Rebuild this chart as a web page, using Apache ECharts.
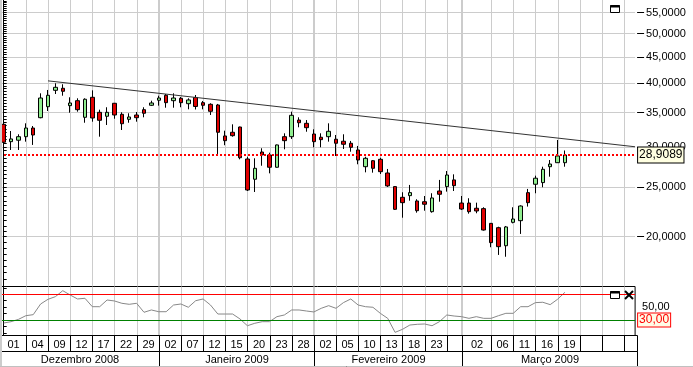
<!DOCTYPE html>
<html>
<head>
<meta charset="utf-8">
<script src="https://cdn.jsdelivr.net/npm/echarts@6/dist/echarts.min.js"></script>
<style>
html,body{margin:0;padding:0;background:#fff;}
#chart{width:693px;height:367px;}
</style>
</head>
<body>
<div id="chart"></div>
<script>
// ---------- DATA ----------
const categories = [
 '2008-12-01','2008-12-02','2008-12-03','2008-12-04','2008-12-05','2008-12-08','2008-12-09','2008-12-10','2008-12-11','2008-12-12',
 '2008-12-15','2008-12-16','2008-12-17','2008-12-18','2008-12-19','2008-12-22','2008-12-23','2008-12-26','2008-12-29','2008-12-30','2008-12-31',
 '2009-01-02','2009-01-05','2009-01-06','2009-01-07','2009-01-08','2009-01-09','2009-01-12','2009-01-13','2009-01-14','2009-01-15',
 '2009-01-16','2009-01-19','2009-01-20','2009-01-21','2009-01-22','2009-01-23','2009-01-26','2009-01-27','2009-01-28','2009-01-29','2009-01-30',
 '2009-02-02','2009-02-03','2009-02-04','2009-02-05','2009-02-06','2009-02-09','2009-02-10','2009-02-11','2009-02-12','2009-02-13',
 '2009-02-16','2009-02-17','2009-02-18','2009-02-19','2009-02-20','2009-02-23','2009-02-24','2009-02-25','2009-02-26','2009-02-27',
 '2009-03-02','2009-03-03','2009-03-04','2009-03-05','2009-03-06','2009-03-09','2009-03-10','2009-03-11','2009-03-12','2009-03-13',
 '2009-03-16','2009-03-17','2009-03-18','2009-03-19','2009-03-20','2009-03-23','2009-03-24','2009-03-25','2009-03-26','2009-03-27',
 '2009-03-30','2009-03-31','2009-04-01','2009-04-02'
];
const opens = [33.20,30.70,30.90,31.40,32.65,34.21,35.95,38.71,39.07,36.12,36.94,34.27,37.51,35.05,34.43,36.51,34.74,33.96,34.63,35.47,
 36.18,37.01,37.85,36.94,37.34,36.44,37.48,36.61,36.34,36.23,31.50,32.03,32.80,28.39,25.91,29.30,28.91,27.35,31.40,31.40,
 33.85,33.35,31.78,31.32,31.40,31.04,30.76,30.48,29.57,27.42,28.17,28.35,26.65,25.06,23.88,24.06,23.49,23.41,22.38,24.57,
 25.06,25.83,23.27,23.27,22.73,22.69,21.23,20.82,19.19,21.33,21.49,24.39,25.33,25.52,27.42,27.92,27.92];
const closes = [30.62,31.08,31.40,32.65,31.64,37.39,37.85,39.24,38.54,36.56,35.47,37.18,34.16,33.81,35.05,34.63,33.29,34.32,34.21,34.90,
 36.56,37.39,36.61,37.39,36.61,37.06,35.99,36.18,35.21,32.03,30.84,31.54,28.55,24.68,27.22,28.91,27.35,30.25,30.84,34.58,
 33.44,32.70,30.70,30.98,32.17,30.48,30.34,29.93,28.26,28.48,27.22,26.81,25.14,22.62,23.31,24.39,22.48,23.14,23.81,24.21,
 26.41,25.17,22.65,22.38,22.45,20.60,19.46,19.11,20.89,21.65,22.96,23.31,26.03,27.10,27.75,28.78,28.9089];
const lows = [30.38,29.57,29.57,30.70,30.25,34.12,35.26,38.07,37.78,34.99,35.15,33.44,33.60,31.40,33.10,34.05,32.36,33.44,33.60,34.27,
 36.07,36.12,35.79,35.79,35.86,35.53,35.50,35.53,34.63,29.04,30.21,31.40,28.35,24.57,24.46,27.54,26.61,27.30,29.66,31.08,
 32.76,32.11,29.93,29.93,30.70,28.78,29.70,29.34,27.72,26.73,26.69,26.53,25.02,22.55,21.78,23.52,22.28,22.48,22.28,23.41,
 24.50,24.57,22.55,22.18,22.22,20.55,19.06,18.41,18.26,21.23,20.24,22.90,24.32,24.99,26.21,27.90,27.42];
const highs = [33.40,32.21,31.74,33.35,32.95,38.19,38.77,39.96,39.78,37.51,37.34,37.34,38.71,35.47,35.86,36.56,35.05,34.90,35.10,35.86,
 36.94,37.78,38.07,38.19,37.56,37.34,37.90,36.89,36.51,36.40,32.26,33.20,32.85,28.68,28.48,29.80,29.21,30.30,31.88,35.15,
 34.27,33.85,32.46,31.88,33.35,31.64,31.74,30.80,30.11,28.68,28.26,28.55,27.14,25.10,24.43,25.25,23.67,24.02,24.32,25.83,
 26.89,26.49,24.02,23.78,23.31,22.83,21.25,20.91,20.98,22.83,23.03,24.80,26.33,27.42,28.26,30.94,29.50];
const rsi = [25.3,27.4,31.0,36.7,38.3,54.9,62.2,66.3,75.6,68.9,62.7,63.8,50.7,50.7,61.1,59.6,56.0,54.4,56.0,42.0,
 45.6,42.9,42.9,53.3,54.9,49.8,60.0,62.7,53.3,39.3,39.3,39.3,31.6,21.1,24.9,27.4,27.4,35.2,37.8,45.6,
 45.6,44.0,42.5,48.2,52.3,48.2,57.0,62.7,53.3,50.7,49.8,40.4,32.6,10.8,15.5,22.2,23.3,23.8,21.1,27.4,
 37.8,36.2,35.2,32.6,35.2,32.6,32.6,36.7,40.4,40.4,50.7,50.7,57.0,57.6,53.9,62.2,73.1];
const trendline = [[6, 40.4], [85.5, 30.0]];
const priceTicks = [20, 25, 30, 35, 40, 45, 50, 55];
const rsiLevels = [70, 30];
const rsiTickLabels = [50];
const dayCells = [[0,'01'],[3,'04'],[6,'09'],[9,'12'],[12,'17'],[15,'22'],[18,'29'],
 [21,'02'],[24,'07'],[27,'12'],[30,'15'],[33,'20'],[36,'23'],[39,'28'],
 [42,'02'],[45,'05'],[48,'10'],[51,'13'],[54,'18'],[57,'23'],[60,''],
 [62,'02'],[66,'06'],[69,'11'],[72,'16'],[75,'19'],[78,''],[81,''],[84,'']];
const monthCells = [[0,'Dezembro 2008'],[21,'Janeiro 2009'],[42,'Fevereiro 2009'],[62,'Março 2009']];

// ---------- BUILD ----------
const N = categories.length;
const FONT = 'Liberation Sans, Arial, sans-serif';
const LEFT = -2.7, WIDTH = 637.8, AXIS_OFFSET = 2;
const candleData = opens.map((o, i) => [o, closes[i], lows[i], highs[i]]);
const lastClose = closes[closes.length - 1];
const fmt = (v, d) => Number(v).toFixed(d).replace('.', ',');
const monthStarts = monthCells.map(c => c[0]).filter(i => i > 0);
const gridIdx = dayCells.map(c => c[0]).filter(i => i > 0);
const minorTicks = [];
for (let v = 16.5; v <= 58; v += 0.5) minorTicks.push(v);

function vLines(xIdx, yIdx, yVal) {
  return {
    type: 'custom', xAxisIndex: xIdx, yAxisIndex: yIdx, silent: true, z: 1,
    data: gridIdx.map(i => [i, yVal]),
    renderItem: function (params, api) {
      const idx = api.value(0);
      const x = Math.round(api.coord([idx, api.value(1)])[0]);
      const cs = params.coordSys;
      const month = monthStarts.indexOf(idx) >= 0;
      return {
        type: 'line',
        shape: { x1: month ? x : x + 0.5, y1: cs.y, x2: month ? x : x + 0.5, y2: cs.y + cs.height },
        style: { stroke: '#cccccc', lineWidth: month ? 2 : 1 }
      };
    }
  };
}

function cellSeries(cells, r0, r1) {
  return {
    type: 'custom', xAxisIndex: 4, yAxisIndex: 3, silent: true, z: 5,
    data: cells.map(c => [c[0], r0]),
    renderItem: function (params, api) {
      const k = params.dataIndex;
      const s = k === 0 ? -0.5 : cells[k][0];
      const e = k + 1 < cells.length ? cells[k + 1][0] : N - 0.5;
      const a = api.coord([s, r1]);
      const b = api.coord([e, r0]);
      const last = k + 1 >= cells.length;
      const x0 = Math.round(a[0]) + 0.5, x1 = Math.round(b[0]) + 0.5 + (last ? AXIS_OFFSET : 0);
      const y0 = Math.round(a[1]) + 0.5, y1 = Math.round(b[1]) + 0.5;
      return {
        type: 'group',
        children: [
          { type: 'rect', shape: { x: x0, y: y0, width: x1 - x0, height: y1 - y0 },
            style: { fill: null, stroke: '#000', lineWidth: 1 } },
          { type: 'text', style: { text: cells[k][1], x: (x0 + x1) / 2, y: (y0 + y1) / 2 + 1,
            align: 'center', verticalAlign: 'middle', fontSize: 11, fontFamily: FONT, fill: '#000' } }
        ]
      };
    }
  };
}

const chart = echarts.init(document.getElementById('chart'), null, { renderer: 'canvas' });
const option = {
  animation: false,
  backgroundColor: '#fff',
  textStyle: { fontFamily: FONT },
  grid: [
    { left: LEFT, width: WIDTH, top: 0, height: 286 },
    { left: LEFT, width: WIDTH, top: 286.5, height: 49, show: true, borderColor: '#000', borderWidth: 1, backgroundColor: 'transparent' },
    { left: LEFT, width: WIDTH, top: 335, height: 31 }
  ],
  xAxis: [
    { gridIndex: 0, type: 'category', data: categories, show: false },
    { gridIndex: 0, type: 'value', min: -0.5, max: N - 0.5, show: false },
    { gridIndex: 1, type: 'category', data: categories, show: false },
    { gridIndex: 1, type: 'value', min: -0.5, max: N - 0.5, show: false },
    { gridIndex: 2, type: 'value', min: -0.5, max: N - 0.5, show: false }
  ],
  yAxis: [
    { gridIndex: 0, type: 'log', logBase: 10, min: 16.0, max: 58.2, position: 'right', offset: AXIS_OFFSET,
      axisLine: { show: true, lineStyle: { color: '#000', width: 1 } },
      axisTick: { show: true, customValues: minorTicks, length: 3, lineStyle: { color: '#000' } },
      axisLabel: { show: false }, splitLine: { show: false } },
    { gridIndex: 0, type: 'log', logBase: 10, min: 16.0, max: 58.2, position: 'right', offset: AXIS_OFFSET,
      axisLine: { show: false },
      axisTick: { show: true, customValues: priceTicks, length: 7, lineStyle: { color: '#000' } },
      axisLabel: { show: true, customValues: priceTicks, formatter: v => fmt(v, 4), color: '#000', fontSize: 11, margin: 9, fontFamily: FONT },
      splitLine: { show: true, lineStyle: { color: '#cccccc', width: 1 } } },
    { gridIndex: 1, type: 'value', min: 5.9, max: 82.1, position: 'right', offset: AXIS_OFFSET,
      axisLine: { show: true, lineStyle: { color: '#000' } },
      axisTick: { show: true, customValues: [10, 20, 30, 40, 50, 60, 70, 80], length: 3, lineStyle: { color: '#000' } },
      axisLabel: { show: true, customValues: rsiTickLabels, formatter: v => fmt(v, 2), color: '#000', fontSize: 11, margin: 5, fontFamily: FONT },
      splitLine: { show: false } },
    { gridIndex: 2, type: 'value', min: 0, max: 2, show: false }
  ],
  series: [
    vLines(1, 0, 30),
    {
      type: 'candlestick', xAxisIndex: 0, yAxisIndex: 0, data: candleData, barWidth: 4, z: 3,
      itemStyle: { color: '#90ee90', color0: '#e00000', borderColor: '#000', borderColor0: '#000', borderWidth: 1 },
      markLine: {
        silent: true, symbol: 'none', animation: false,
        data: [{ yAxis: lastClose }],
        lineStyle: { color: '#ff0000', type: [2, 2], width: 2 },
        label: { show: true, position: 'end', distance: 3, formatter: () => fmt(lastClose, 4),
          color: '#000', fontSize: 12, fontFamily: FONT, backgroundColor: '#ffffe1',
          borderColor: '#000', borderWidth: 1, padding: [2, 1, 1, 1] }
      }
    },
    {
      type: 'line', xAxisIndex: 1, yAxisIndex: 0, data: trendline, symbol: 'none', silent: true, z: 4,
      lineStyle: { color: '#333', width: 1 }
    },
    vLines(3, 2, 50),
    {
      type: 'line', xAxisIndex: 2, yAxisIndex: 2, data: rsi, symbol: 'none', silent: true, z: 3,
      lineStyle: { color: '#888', width: 1 },
      markLine: {
        silent: true, symbol: 'none', animation: false,
        data: [
          { yAxis: rsiLevels[0], lineStyle: { color: '#ff0000', width: 1, type: 'solid' }, label: { show: false } },
          { yAxis: rsiLevels[1], lineStyle: { color: '#008000', width: 1, type: 'solid' },
            label: { show: true, position: 'end', distance: 3, formatter: () => fmt(rsiLevels[1], 2),
              color: '#ff0000', fontSize: 12, fontFamily: FONT, backgroundColor: '#fffbe6',
              borderColor: '#ff0000', borderWidth: 1, padding: [1, 1, 0, 1] } }
        ]
      }
    },
    cellSeries(dayCells, 1, 2),
    cellSeries(monthCells, 0, 1)
  ],
  graphic: [
    { type: 'rect', shape: { x: 0, y: 0, width: 2, height: 367 }, style: { fill: '#cccccc' }, z: 100 },
    { type: 'line', shape: { x1: 0, y1: 366.5, x2: 693, y2: 366.5 }, style: { stroke: '#c0c0c0', lineWidth: 1 }, z: 100 },
    { type: 'rect', shape: { x: 610.5, y: 5.5, width: 9, height: 7 }, style: { fill: '#fff', stroke: '#000', lineWidth: 1 }, z: 100 },
    { type: 'line', shape: { x1: 610, y1: 6.5, x2: 620, y2: 6.5 }, style: { stroke: '#000', lineWidth: 2 }, z: 101 },
    { type: 'rect', shape: { x: 610.5, y: 291.5, width: 9, height: 7 }, style: { fill: '#fff', stroke: '#000', lineWidth: 1 }, z: 100 },
    { type: 'line', shape: { x1: 610, y1: 292.5, x2: 620, y2: 292.5 }, style: { stroke: '#000', lineWidth: 2 }, z: 101 },
    { type: 'line', shape: { x1: 625, y1: 291, x2: 633, y2: 299 }, style: { stroke: '#000', lineWidth: 2 }, z: 101 },
    { type: 'line', shape: { x1: 633, y1: 291, x2: 625, y2: 299 }, style: { stroke: '#000', lineWidth: 2 }, z: 101 }
  ]
};
chart.setOption(option);
</script>
</body>
</html>
